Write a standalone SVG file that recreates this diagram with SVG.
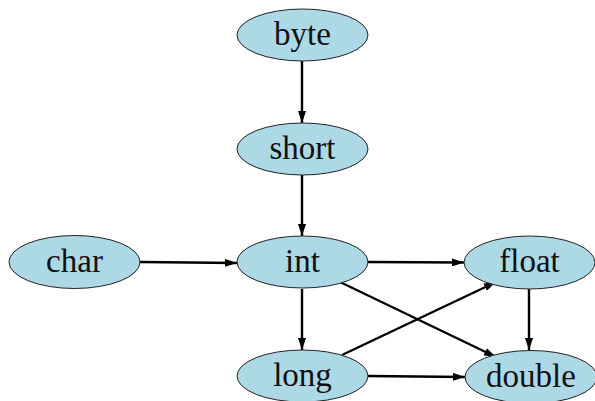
<svg xmlns="http://www.w3.org/2000/svg" width="595" height="401" viewBox="0 0 595 401">
<defs>
<marker id="ah" viewBox="0 0 12 8" refX="12" refY="4" markerWidth="12" markerHeight="8" markerUnits="userSpaceOnUse" orient="auto">
<path d="M0,0 L12,4 L0,8 z" fill="#000"/>
</marker>
<style>
.n ellipse{fill:#ADD8E6;stroke:#222;stroke-width:1}
.n text{font-size:33px;fill:#111;text-anchor:middle;dominant-baseline:central}
.e line{stroke:#000;stroke-width:2.4;marker-end:url(#ah)}
</style>
</defs>
<rect width="595" height="401" fill="#fff"/>
<g class="e" id="edges">
<line x1="302" y1="61" x2="302" y2="123"/>
<line x1="302" y1="175" x2="302" y2="236"/>
<line x1="140" y1="262" x2="237" y2="263"/>
<line x1="368" y1="262" x2="464" y2="262.5"/>
<line x1="340" y1="282" x2="496" y2="357"/>
<line x1="302" y1="289" x2="302" y2="350"/>
<line x1="342" y1="355" x2="496" y2="282"/>
<line x1="529" y1="289" x2="529" y2="350"/>
<line x1="368" y1="376" x2="465" y2="377"/>
</g>
<g font-family="'Liberation Serif', 'DejaVu Serif', serif">
<g class="n" id="byte"><ellipse cx="302.5" cy="35" rx="65.5" ry="26"/><text x="302.5" y="34">byte</text></g>
<g class="n" id="short"><ellipse cx="302.5" cy="149" rx="65.5" ry="26"/><text x="302.5" y="148">short</text></g>
<g class="n" id="char"><ellipse cx="74.5" cy="262" rx="65.5" ry="26.5"/><text x="74.5" y="261">char</text></g>
<g class="n" id="int"><ellipse cx="302.5" cy="262" rx="65.5" ry="26"/><text x="302.5" y="261">int</text></g>
<g class="n" id="float"><ellipse cx="529.5" cy="262.5" rx="65.5" ry="26.5"/><text x="529.5" y="261">float</text></g>
<g class="n" id="long"><ellipse cx="302.5" cy="376" rx="65.5" ry="26"/><text x="302.5" y="375">long</text></g>
<g class="n" id="double"><ellipse cx="531" cy="377" rx="66" ry="26.5"/><text x="531" y="376">double</text></g>
</g>
</svg>
